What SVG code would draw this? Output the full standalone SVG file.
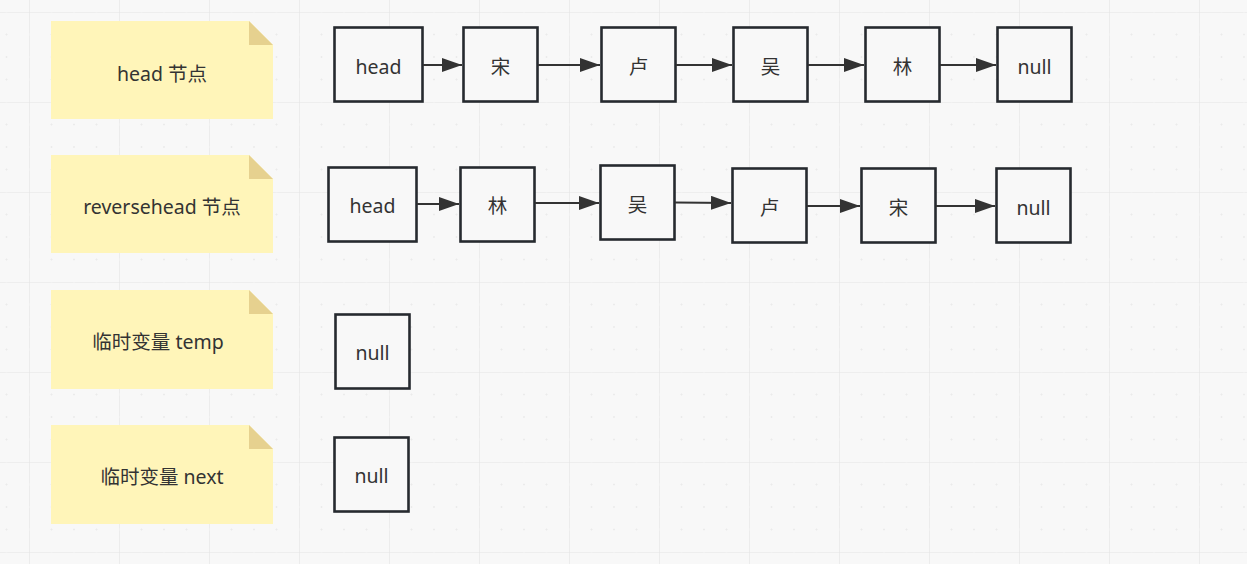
<svg xmlns="http://www.w3.org/2000/svg" width="1247" height="564" viewBox="0 0 1247 564">
<style>
.note{fill:#fff5b9}
.fold{fill:#e6d18f}
.box{fill:#f8f8f8;stroke:#262a2f;stroke-width:2.6;}
.t{font-family:"Noto Sans","Noto Sans CJK SC",sans-serif;font-size:19.5px;fill:#333;text-anchor:middle;dominant-baseline:central}
.c{stroke:#333;stroke-width:2;fill:none;marker-end:url(#arr)}
</style>
<defs>
<marker id="arr" markerUnits="userSpaceOnUse" markerWidth="20" markerHeight="14" refX="20" refY="7" orient="auto">
<path d="M0,0 L20,7 L0,14 Z" fill="#333"/>
</marker>
<pattern id="grid" patternUnits="userSpaceOnUse" x="29" y="12" width="90" height="90">
<path d="M0,0 H90 M0,0 V90" stroke="#e4e4e4" stroke-width="1.2" fill="none"/>
<g stroke="#ebebeb" stroke-width="1" fill="none">
<path d="M21.5,22.5 h2 M22.5,21.5 v2 M44,22.5 h2 M45,21.5 v2 M66.5,22.5 h2 M67.5,21.5 v2"/>
<path d="M21.5,45 h2 M22.5,44 v2 M44,45 h2 M45,44 v2 M66.5,45 h2 M67.5,44 v2"/>
<path d="M21.5,67.5 h2 M22.5,66.5 v2 M44,67.5 h2 M45,66.5 v2 M66.5,67.5 h2 M67.5,66.5 v2"/>
<path d="M21.5,0 h2 M44,0 h2 M66.5,0 h2 M0,21.5 v2 M0,44 v2 M0,66.5 v2" stroke="#f4f4f4"/>
</g>
</pattern>
</defs>
<rect width="1247" height="564" fill="#f8f8f8"/>
<rect width="1247" height="564" fill="url(#grid)"/>

<g id="note-head">
<path class="note" d="M51,21 H249 L273,45 V119 H51 Z"/>
<path class="fold" d="M249,21 L273,45 H249 Z"/>
<text class="t" x="162" y="73">head 节点</text>
</g>
<g id="note-reverse">
<path class="note" d="M51,155 H249 L273,179 V253 H51 Z"/>
<path class="fold" d="M249,155 L273,179 H249 Z"/>
<text class="t" x="162" y="206">reversehead 节点</text>
</g>
<g id="note-temp">
<path class="note" d="M51,290 H249 L273,314 V389 H51 Z"/>
<path class="fold" d="M249,290 L273,314 H249 Z"/>
<text class="t" x="158" y="341">临时变量 temp</text>
</g>
<g id="note-next">
<path class="note" d="M51,425 H249 L273,449 V524 H51 Z"/>
<path class="fold" d="M249,425 L273,449 H249 Z"/>
<text class="t" x="162" y="476">临时变量 next</text>
</g>

<g id="r1-head"><rect class="box" x="334.5" y="27.5" width="88" height="74"/><text class="t" x="378.5" y="66">head</text></g>
<g id="r1-song"><rect class="box" x="463.5" y="27.5" width="74" height="74"/><text class="t" x="500.5" y="66">宋</text></g>
<g id="r1-lu"><rect class="box" x="601.5" y="27.5" width="74" height="74"/><text class="t" x="638.5" y="66">卢</text></g>
<g id="r1-wu"><rect class="box" x="733.5" y="27.5" width="74" height="74"/><text class="t" x="770.5" y="66">吴</text></g>
<g id="r1-lin"><rect class="box" x="865.5" y="27.5" width="74" height="74"/><text class="t" x="902.5" y="66">林</text></g>
<g id="r1-null"><rect class="box" x="997.5" y="27.5" width="74" height="74"/><text class="t" x="1034.5" y="66">null</text></g>

<g id="r2-head"><rect class="box" x="328.5" y="167.5" width="88" height="74"/><text class="t" x="372.5" y="205">head</text></g>
<g id="r2-lin"><rect class="box" x="460.5" y="167.5" width="74" height="74"/><text class="t" x="497.5" y="205">林</text></g>
<g id="r2-wu"><rect class="box" x="600.5" y="165.5" width="74" height="74"/><text class="t" x="637.5" y="204">吴</text></g>
<g id="r2-lu"><rect class="box" x="732.5" y="168.5" width="74" height="74"/><text class="t" x="769.5" y="207">卢</text></g>
<g id="r2-song"><rect class="box" x="861.5" y="168.5" width="74" height="74"/><text class="t" x="898.5" y="207">宋</text></g>
<g id="r2-null"><rect class="box" x="996.5" y="168.5" width="74" height="74"/><text class="t" x="1033.5" y="207">null</text></g>

<g id="temp-null"><rect class="box" x="335.5" y="314.5" width="74" height="74"/><text class="t" x="372.5" y="352">null</text></g>
<g id="next-null"><rect class="box" x="334.5" y="437.5" width="74" height="74"/><text class="t" x="371.5" y="475">null</text></g>

<g id="connectors">
<path class="c" d="M423,65 H462"/>
<path class="c" d="M538,65 H600"/>
<path class="c" d="M676,65 H732"/>
<path class="c" d="M808,65 H864"/>
<path class="c" d="M940,65 H996"/>
<path class="c" d="M417,204 H459"/>
<path class="c" d="M535,203 H599"/>
<path class="c" d="M675,202.5 L731,203"/>
<path class="c" d="M807,206 H860"/>
<path class="c" d="M936,206 H995"/>
</g>
</svg>
